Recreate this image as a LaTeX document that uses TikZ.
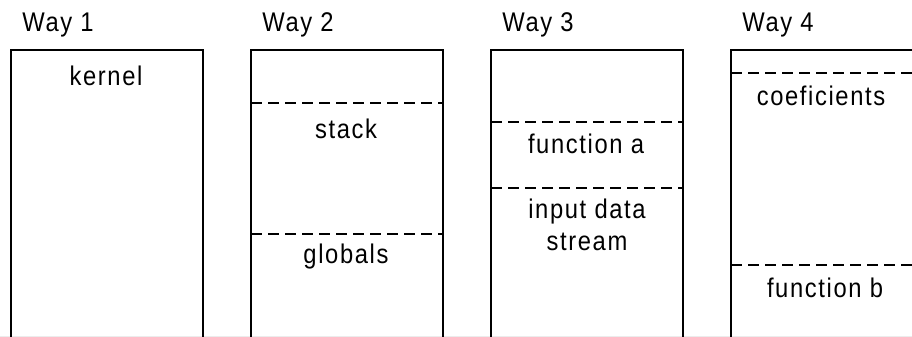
\documentclass[tikz,border=0pt]{standalone}
\usepackage{fontspec}
\setmainfont[FakeStretch=0.88,LetterSpace=6]{Liberation Sans}
\begin{document}
\begin{tikzpicture}[x=0.5pt,y=-0.5pt,
                every node/.style={inner sep=0pt, font=\fontsize{13.5}{16}\selectfont},
                wall_style/.style={draw=black, line width=1pt},
                split_style/.style={draw=black, line width=1pt, dash pattern=on 5.5pt off 3pt}]
                \tikzset{title/.style={anchor=base west}, lbl/.style={anchor=base, align=center}}
                \useasboundingbox (0,0) rectangle (912,337);
                \draw [gray!15, line width=0.8pt] (0,336.5) -- (912,336.5);
                \foreach \w/\x in {1/11,2/251,3/491,4/731} {
                    \node [title] (way\w) at (\x+11,32) {Way \w};
                    \draw [wall_style] (\x,337) -- (\x,50) -- (\x+192,50) -- (\x+192,337);
                }
                \foreach \x/\y in {251/103,251/234,491/122,491/188,731/73,731/265}
                    \draw [split_style] (\x,\y) -- (\x+192,\y);
                \node [lbl] (kernel) at (106,85) {kernel};
                \node [lbl] (stack) at (346,138) {stack};
                \node [lbl] (globals) at (346,263) {globals};
                \node [lbl] (funa) at (586,153) {function a};
                \node [lbl] (input) at (587,250) {input data\\stream};
                \node [lbl] (coef) at (821,105) {coeficients};
                \node [lbl] (funb) at (825,297) {function b};
            \end{tikzpicture}
\end{document}
